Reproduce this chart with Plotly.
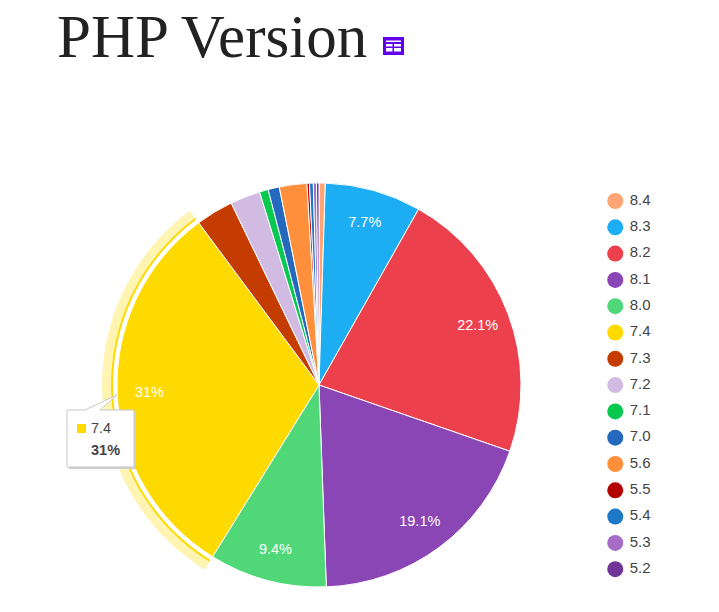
import plotly.graph_objects as go

W, H = 719, 612

# PHP version share, clockwise from 12 o'clock
versions = ["8.4", "8.3", "8.2", "8.1", "8.0", "7.4", "7.3", "7.2", "7.1", "7.0",
            "5.6", "5.5", "5.4", "5.3", "5.2"]
shares = [0.5, 7.7, 22.1, 19.1, 9.4, 31.0, 3.0, 2.4, 0.7, 0.9, 2.2, 0.2, 0.3, 0.25, 0.2]
slice_labels = ["", "7.7%", "22.1%", "19.1%", "9.4%", "31%", "", "", "", "", "", "", "", "", ""]
colors = ["#FFA573", "#1CADF2", "#EC414C", "#8A46B5", "#50D878", "#FFDA00", "#C43C00",
          "#D2BBE3", "#09C850", "#2469BD", "#FF8F3A", "#B30000", "#1E78C8", "#A56DC8", "#703596"]
highlighted = "7.4"
tooltip_value = "31%"

# pie geometry in page pixels
CX, CY, R = 319, 385, 202


def px_x(x):
    return x / W


def px_y(y):
    return 1 - y / H


def pie_domain(r):
    return dict(x=[px_x(CX - r), px_x(CX + r)], y=[px_y(CY + r), px_y(CY - r)])


def ring(r_out, r_in, color):
    # ring drawn only around the highlighted slice
    cols = [color if v == highlighted else "rgba(0,0,0,0)" for v in versions]
    return go.Pie(
        values=shares, labels=versions, sort=False, direction="clockwise", rotation=0,
        domain=pie_domain(r_out), hole=r_in / r_out, textinfo="none", hoverinfo="skip",
        showlegend=False, marker=dict(colors=cols, line=dict(width=0)),
    )


fig = go.Figure()
fig.add_trace(ring(217, 208, "rgba(255,218,0,0.3)"))
fig.add_trace(ring(208, 206, "#FFDA00"))

fig.add_trace(go.Pie(
    values=shares, labels=versions, sort=False, direction="clockwise", rotation=0,
    domain=pie_domain(R), textinfo="none", showlegend=False,
    marker=dict(colors=colors, line=dict(color="white", width=1)),
))

# transparent donut on top so the labels sit out near the rim
fig.add_trace(go.Pie(
    values=shares, labels=versions, sort=False, direction="clockwise", rotation=0,
    domain=pie_domain(R), hole=0.68, text=slice_labels, textinfo="text",
    textposition="inside", insidetextorientation="horizontal",
    textfont=dict(family="Liberation Sans", size=14.5, color="white"),
    hoverinfo="skip", showlegend=False,
    marker=dict(colors=["rgba(0,0,0,0)"] * len(versions), line=dict(width=0)),
))

# legend with round markers, text in its own column
row_h = 26.3
top = 201 - row_h / 2
fig.add_trace(go.Scatter(
    x=["marker"] * len(versions), y=versions, mode="markers",
    marker=dict(size=16, color=colors),
    cliponaxis=False, hoverinfo="skip", showlegend=False,
))
fig.add_trace(go.Scatter(
    x=["text"] * len(versions), y=versions, mode="text",
    text=versions, textposition="middle right",
    textfont=dict(family="Liberation Sans", size=15, color="#444444"),
    cliponaxis=False, hoverinfo="skip", showlegend=False,
))

# tooltip
tip = [
    dict(type="rect", x0=69, x1=136, y0=412, y1=469, fillcolor="#cfcfcf", line_width=0),
    dict(type="path", path="M 67 410 L 85 410 L 117 395 L 100 410 L 134 410 L 134 467 L 67 467 Z",
         fillcolor="white", line=dict(color="#c8c8c8", width=1)),
    dict(type="rect", x0=77, x1=86, y0=424, y1=433, fillcolor="#FFDA00", line_width=0),
]
# table icon next to the title
icon = [dict(type="rect", x0=383, x1=404, y0=37, y1=55, fillcolor="#6200EE", line_width=0)]
for y0, y1, x0, x1 in [(40.5, 42, 386, 401), (44, 46.5, 386, 392.5), (44, 46.5, 394, 401),
                       (48, 51.5, 386, 392.5), (48, 51.5, 394, 401)]:
    icon.append(dict(type="rect", x0=x0, x1=x1, y0=y0, y1=y1, fillcolor="white", line_width=0))

shapes = []
for s in tip + icon:
    s = dict(s, xref="paper", yref="paper")
    if s["type"] == "rect":
        s.update(x0=px_x(s["x0"]), x1=px_x(s["x1"]), y0=px_y(s["y0"]), y1=px_y(s["y1"]))
    else:
        # path coordinates have to be converted point by point
        parts = s["path"].split()
        out, i = [], 0
        while i < len(parts):
            if parts[i] == "Z":
                out.append("Z")
                i += 1
            else:
                out += [parts[i], f"{px_x(float(parts[i + 1])):.5f}", f"{px_y(float(parts[i + 2])):.5f}"]
                i += 3
        s["path"] = " ".join(out)
    shapes.append(s)

fig.update_layout(
    width=W, height=H, margin=dict(l=0, r=0, t=0, b=0),
    paper_bgcolor="white", plot_bgcolor="white", showlegend=False,
    shapes=shapes,
    xaxis=dict(domain=[px_x(608), px_x(637)], visible=False, type="category",
               categoryorder="array", categoryarray=["marker", "text"], range=[-0.5, 1.5]),
    yaxis=dict(domain=[px_y(top + row_h * len(versions)), px_y(top)], visible=False,
               type="category", categoryorder="array", categoryarray=versions,
               range=[len(versions) - 0.5, -0.5]),
    annotations=[
        dict(text="PHP Version", xref="paper", yref="paper", x=px_x(55), y=px_y(36),
             xanchor="left", yanchor="middle", showarrow=False,
             font=dict(family="Liberation Serif", size=61, color="#222222")),
        dict(text=highlighted, xref="paper", yref="paper", x=px_x(89), y=px_y(428),
             xanchor="left", yanchor="middle", showarrow=False,
             font=dict(family="Liberation Sans", size=14.5, color="#444444")),
        dict(text=f"<b>{tooltip_value}</b>", xref="paper", yref="paper", x=px_x(89), y=px_y(450),
             xanchor="left", yanchor="middle", showarrow=False,
             font=dict(family="Liberation Sans", size=14.5, color="#444444")),
    ],
)

# the default page margin would shift everything by 8px
fig.write_html("out.html", config=dict(displayModeBar=False),
               post_script="document.body.style.margin='0';")
